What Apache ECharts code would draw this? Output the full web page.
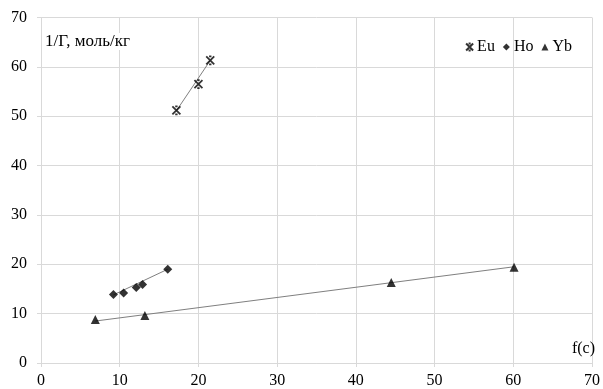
<!DOCTYPE html>
<html>
<head>
<meta charset="utf-8">
<script src="https://cdn.jsdelivr.net/npm/echarts@6/dist/echarts.min.js"></script>
<style>
html,body{margin:0;padding:0;background:#fff;}
#chart{width:603px;height:389px;}
</style>
</head>
<body>
<div id="chart"></div>
<script>
// Data
const euX = [17.2, 20.0, 21.5];
const euY = [51.2, 56.5, 61.3];
const hoX = [9.2, 10.5, 12.1, 12.9, 16.1];
const hoY = [13.9, 14.2, 15.3, 15.9, 19.0];
const ybX = [6.9, 13.2, 44.5, 60.1];
const ybY = [8.8, 9.6, 16.3, 19.4];
// Trend line end points
const euTrendX = [17.2, 21.5];
const euTrendY = [51.1, 61.3];
const hoTrendX = [9.2, 16.1];
const hoTrendY = [13.8, 19.0];
const ybTrendX = [6.9, 60.1];
const ybTrendY = [8.5, 19.5];
const seriesNames = ['Eu', 'Ho', 'Yb'];
const xTitle = 'f(c)';
const yTitle = '1/Г, моль/кг';

const pair = (xs, ys) => xs.map((x, i) => [x, ys[i]]);
const FONT = 'Liberation Serif';
const starPath = 'path://M0 0 L10 10 M10 0 L0 10 M3.5 0 L6.5 0 M3.5 10 L6.5 10';

const chart = echarts.init(document.getElementById('chart'), null, {renderer: 'canvas'});
const trendStyle = {color: '#7f7f7f', width: 1};
chart.setOption({
  animation: false,
  backgroundColor: '#fff',
  grid: {left: 41, right: 7, top: 17.5, bottom: 23.6},
  legend: {
    data: seriesNames,
    top: 34, right: 26,
    itemWidth: 7, itemHeight: 7, itemGap: 8,
    textStyle: {fontFamily: FONT, fontSize: 16, color: '#000', padding: [0, 0, 0, -1]}
  },
  xAxis: {
    type: 'value', min: 0, max: 70, interval: 10,
    axisLine: {show: true, onZero: true, lineStyle: {color: '#d9d9d9'}},
    axisTick: {show: true, length: 4, lineStyle: {color: '#d9d9d9'}},
    splitLine: {show: true, lineStyle: {color: '#d9d9d9'}},
    axisLabel: {fontFamily: FONT, fontSize: 16, color: '#000', margin: 10}
  },
  yAxis: {
    type: 'value', min: 0, max: 70, interval: 10,
    axisLine: {show: false},
    axisTick: {show: true, length: 4, lineStyle: {color: '#d9d9d9'}},
    splitLine: {show: true, lineStyle: {color: '#d9d9d9'}},
    axisLabel: {fontFamily: FONT, fontSize: 16, color: '#000', margin: 14}
  },
  graphic: [
    {type: 'text', left: 45, top: 33, z: 10,
     style: {text: yTitle, fontFamily: FONT, fontSize: 17, fill: '#000', backgroundColor: '#fff'}},
    {type: 'text', right: 8, top: 341, z: 10,
     style: {text: xTitle, fontFamily: FONT, fontSize: 16, fill: '#000'}}
  ],
  series: [
    {name: 'Eu', type: 'scatter', data: pair(euX, euY), symbol: starPath, symbolSize: 8,
     itemStyle: {color: 'transparent', borderColor: '#000', borderWidth: 1.8}, z: 5},
    {name: 'Ho', type: 'scatter', data: pair(hoX, hoY), symbol: 'diamond', symbolSize: 9,
     itemStyle: {color: '#000'}, z: 5},
    {name: 'Yb', type: 'scatter', data: pair(ybX, ybY), symbol: 'triangle', symbolSize: 9,
     itemStyle: {color: '#000'}, z: 5},
    {type: 'line', data: pair(euTrendX, euTrendY), showSymbol: false, symbol: 'none', lineStyle: trendStyle, z: 3, silent: true},
    {type: 'line', data: pair(hoTrendX, hoTrendY), showSymbol: false, symbol: 'none', lineStyle: trendStyle, z: 3, silent: true},
    {type: 'line', data: pair(ybTrendX, ybTrendY), showSymbol: false, symbol: 'none', lineStyle: trendStyle, z: 3, silent: true}
  ]
});
</script>
</body>
</html>
